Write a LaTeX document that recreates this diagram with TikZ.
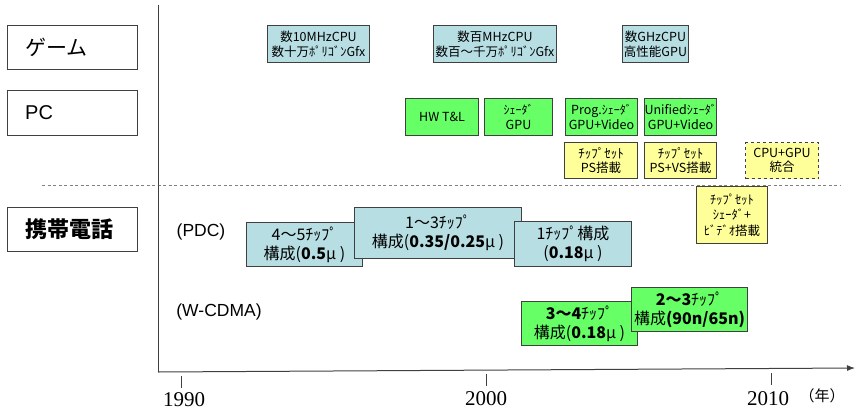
\documentclass[tikz,border=0pt]{standalone}
\usepackage{fontspec}
\setmainfont{Noto Sans CJK JP}
\newfontfamily\yearfont{Liberation Serif}
\newfontfamily\latfont{Liberation Sans}
\usetikzlibrary{arrows.meta}
\definecolor{lblue}{HTML}{B7DEE3}
\definecolor{lgreen}{HTML}{66FF66}
\definecolor{lyellow}{HTML}{FFFF99}
\definecolor{bord}{HTML}{404040}
\tikzset{
 bx/.style={draw=bord, line width=1pt, inner sep=0pt, align=center, anchor=north west},
 bluebx/.style={bx, fill=lblue, font=\fontsize{12.5}{15}\selectfont},
 grnbx/.style={bx, fill=lgreen, font=\fontsize{12.5}{15}\selectfont},
 ylwbx/.style={bx, fill=lyellow, font=\fontsize{12.5}{14}\selectfont},
 chipbx/.style={bx, font=\fontsize{16}{19}\selectfont},
 catbx/.style={draw=bord, line width=1pt, anchor=north west, minimum width=130pt},
 cattext/.style={anchor=west, inner sep=0pt},
 axisline/.style={draw=bord, line width=1pt},
 tickline/.style={draw=bord, line width=0.6pt},
 yearlab/.style={font=\yearfont\fontsize{21}{21}\selectfont, inner sep=0pt},
 sublab/.style={font=\latfont\fontsize{17.5}{17.5}\selectfont, inner sep=0pt},
}
\newcommand\smk[1]{{\fontsize{12}{12}\selectfont #1}}
\newcommand\smc[1]{{\fontsize{13}{13}\selectfont #1}}
\begin{document}
\begin{tikzpicture}[x=1pt,y=-1pt]
\useasboundingbox (0,0) rectangle (855,413);

% category boxes
\node[catbx, minimum height=44pt] (L1) at (7,25) {};
\node[cattext, font=\fontsize{21}{21}\selectfont] (L1t) at ([xshift=18pt]L1.west) {ゲーム};
\node[catbx, minimum height=45pt] (L2) at (7,90) {};
\node[cattext, font=\latfont\fontsize{20}{20}\selectfont] (L2t) at ([xshift=18pt]L2.west) {PC};
\node[catbx, minimum height=44pt] (L3) at (7,207) {};
\node[cattext, font=\bfseries\fontsize{22}{22}\selectfont] (L3t) at ([xshift=18pt]L3.west) {携帯電話};

% dashed separator
\coordinate (dA) at (42,185);
\coordinate (dB) at (840,185);
\draw[draw=gray, line width=0.9pt, dash pattern=on 3pt off 2.5pt] (dA) -- (dB);

% axes
\coordinate (vTop) at (158,5);
\coordinate (org) at (158,372);
\coordinate (xEnd) at (855,368);
\draw[axisline] (vTop) -- (org);
\draw[axisline, -{Latex[length=8pt,width=6pt]}] (org) -- (xEnd);

% ticks and years
\coordinate (t1a) at (181,376); \coordinate (t1b) at (181,388);
\coordinate (t2a) at (486,374); \coordinate (t2b) at (486,386);
\coordinate (t3a) at (771,373); \coordinate (t3b) at (771,385);
\draw[tickline] (t1a) -- (t1b);
\draw[tickline] (t2a) -- (t2b);
\draw[tickline] (t3a) -- (t3b);
\node[yearlab] (y1990) at (184,400) {1990};
\node[yearlab] (y2000) at (486,399) {2000};
\node[yearlab] (y2010) at (768,399) {2010};
\node[inner sep=0pt, font=\fontsize{15}{15}\selectfont] (nen) at (822,396) {（年）};

% game row
\node[bluebx, minimum width=102pt, minimum height=37pt] (g1) at (267,25) {数10MHzCPU\\数十万ﾎﾟﾘｺﾞﾝGfx};
\node[bluebx, minimum width=123pt, minimum height=37pt] (g2) at (433,25) {数百MHzCPU\\数百～千万ﾎﾟﾘｺﾞﾝGfx};
\node[bluebx, minimum width=66pt, minimum height=37pt] (g3) at (622,25) {数GHzCPU\\高性能GPU};

% PC row
\node[grnbx, minimum width=73pt, minimum height=37pt] (p1) at (405,98) {HW T\&L};
\node[grnbx, minimum width=68pt, minimum height=37pt] (p2) at (484,98) {\smk{ｼｪｰﾀﾞ}\\GPU};
\node[grnbx, minimum width=72pt, minimum height=37pt] (p3) at (565,98) {Prog.\smk{ｼｪｰﾀﾞ}\\GPU+Video};
\node[grnbx, minimum width=72pt, minimum height=37pt] (p4) at (644,98) {Unified\smk{ｼｪｰﾀﾞ}\\GPU+Video};

\node[ylwbx, minimum width=73pt, minimum height=36pt] (c1) at (564,142) {\smc{ﾁｯﾌﾟｾｯﾄ}\\PS搭載};
\node[ylwbx, minimum width=72pt, minimum height=36pt] (c2) at (644,142) {\smc{ﾁｯﾌﾟｾｯﾄ}\\PS+VS搭載};
\node[ylwbx, dashed, minimum width=73pt, minimum height=36pt] (c3) at (745,142) {CPU+GPU\\統合};
\node[ylwbx, minimum width=71pt, minimum height=57pt, font=\fontsize{12.5}{15.5}\selectfont] (c4) at (696,186) {ﾁｯﾌﾟｾｯﾄ\\ｼｪｰﾀﾞ+\\ﾋﾞﾃﾞｵ搭載};

% mobile row labels
\node[sublab] (pdc) at (201,232) {(PDC)};
\node[sublab] (wcdma) at (219,312) {(W-CDMA)};

% PDC boxes
\node[chipbx, fill=lblue, minimum width=116pt, minimum height=44pt] (m1) at (246,222) {4～5ﾁｯﾌﾟ\\構成(\textbf{0.5}μ )};
\node[chipbx, fill=lblue, minimum width=167pt, minimum height=51pt] (m2) at (354,207) {1～3ﾁｯﾌﾟ\\構成(\textbf{0.35/0.25}μ )};
\node[chipbx, fill=lblue, minimum width=117pt, minimum height=45pt] (m3) at (514,221) {1ﾁｯﾌﾟ構成\\(\textbf{0.18}μ )};

% W-CDMA boxes
\node[chipbx, fill=lgreen, minimum width=116pt, minimum height=44pt] (w1) at (521,301) {\textbf{3～4}ﾁｯﾌﾟ\\構成(\textbf{0.18}μ )};
\node[chipbx, fill=lgreen, minimum width=116pt, minimum height=44pt] (w2) at (631,287) {\textbf{2～3}ﾁｯﾌﾟ\\構成\textbf{(90n/65n)}};
\end{tikzpicture}
\end{document}
